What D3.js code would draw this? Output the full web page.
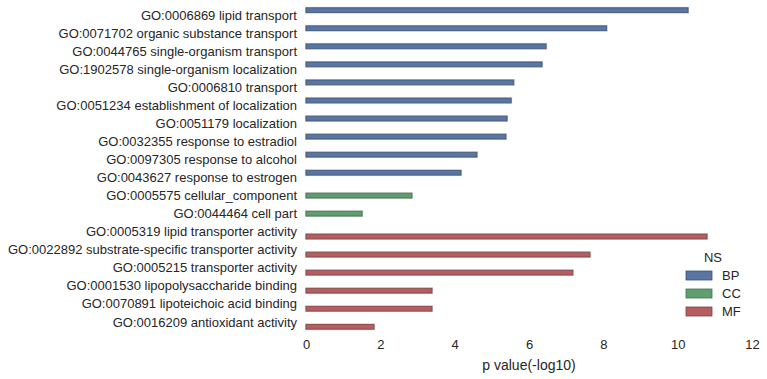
<!DOCTYPE html>
<html><head><meta charset="utf-8">
<script src="https://cdn.jsdelivr.net/npm/d3@7"></script>
<style>
html,body{margin:0;padding:0;background:#fff;}
svg{display:block;font-family:"Liberation Sans",Arial,sans-serif;}
</style></head>
<body><svg id="chart" width="767" height="379"></svg>
<script>
const terms = [
 "GO:0006869 lipid transport",
 "GO:0071702 organic substance transport",
 "GO:0044765 single-organism transport",
 "GO:1902578 single-organism localization",
 "GO:0006810 transport",
 "GO:0051234 establishment of localization",
 "GO:0051179 localization",
 "GO:0032355 response to estradiol",
 "GO:0097305 response to alcohol",
 "GO:0043627 response to estrogen",
 "GO:0005575 cellular_component",
 "GO:0044464 cell part",
 "GO:0005319 lipid transporter activity",
 "GO:0022892 substrate-specific transporter activity",
 "GO:0005215 transporter activity",
 "GO:0001530 lipopolysaccharide binding",
 "GO:0070891 lipoteichoic acid binding",
 "GO:0016209 antioxidant activity"
];
const namespaces = ["BP","BP","BP","BP","BP","BP","BP","BP","BP","BP","CC","CC","MF","MF","MF","MF","MF","MF"];
const pvalues = [10.28, 8.09, 6.46, 6.35, 5.59, 5.52, 5.41, 5.38, 4.60, 4.17, 2.85, 1.51, 10.79, 7.64, 7.18, 3.39, 3.39, 1.83];
const hues = ["BP","CC","MF"];
const xTicks = [0,2,4,6,8,10,12];
const xLabel = "p value(-log10)";
const legendTitle = "NS";

const fillColors = {BP:"#5975a4", CC:"#5f9e6e", MF:"#b55d60"};
const edgeColors = {BP:"#3e5276", CC:"#42704d", MF:"#7f4143"};

const svg = d3.select("#chart");
const x = d3.scaleLinear().domain([0,12]).range([306,752]);
const y = d3.scaleBand().domain(terms).range([6,331]).paddingInner(0).paddingOuter(0);
const sub = d3.scaleBand().domain(hues).range([y.bandwidth()*0.1, y.bandwidth()*0.9]);

const data = terms.map((t,i)=>({term:t, ns:namespaces[i], v:pvalues[i]}));

// bars (halo + bar)
svg.append("g").selectAll("rect.halo").data(data).join("rect")
  .attr("x", x(0)-0.5)
  .attr("y", d=>y(d.term)+sub(d.ns)-0.5)
  .attr("width", d=>x(d.v)-x(0)+1)
  .attr("height", sub.bandwidth()+1)
  .attr("fill","none").attr("stroke","#d0d0d0").attr("stroke-width",1);
svg.append("g").selectAll("rect.bar").data(data).join("rect")
  .attr("x", x(0))
  .attr("y", d=>y(d.term)+sub(d.ns))
  .attr("width", d=>x(d.v)-x(0))
  .attr("height", sub.bandwidth())
  .attr("fill", d=>fillColors[d.ns])
  .attr("stroke", d=>edgeColors[d.ns]).attr("stroke-width",0.8);

// y axis
const yAxis = d3.axisLeft(y).tickSize(0).tickPadding(9);
const gy = svg.append("g").attr("transform","translate(306,0)").call(yAxis);
gy.select(".domain").remove();
gy.selectAll("text").attr("fill","#262626").style("font-size","13px").attr("dy","0.35em");

// x axis
const xAxis = d3.axisBottom(x).tickValues(xTicks).tickSize(0).tickPadding(9).tickFormat(d3.format("d"));
const gx = svg.append("g").attr("transform","translate(0,331)").call(xAxis);
gx.select(".domain").remove();
gx.selectAll("text").attr("fill","#262626").style("font-size","13px");

svg.append("text").attr("x", (x(0)+x(12))/2).attr("y", 370)
  .attr("text-anchor","middle").attr("fill","#262626").style("font-size","14px").text(xLabel);

// legend
const lg = svg.append("g");
lg.append("text").attr("x",713).attr("y",257).attr("dy","0.35em").attr("text-anchor","middle")
  .attr("fill","#262626").style("font-size","13px").text(legendTitle);
hues.forEach((h,i)=>{
  const cy = 275.5 + i*18;
  lg.append("rect").attr("x",686).attr("y",cy-4.5).attr("width",26).attr("height",9)
    .attr("fill",fillColors[h]).attr("stroke",edgeColors[h]).attr("stroke-width",0.8);
  lg.append("text").attr("x",722).attr("y",cy).attr("dy","0.35em")
    .attr("fill","#262626").style("font-size","13px").text(h);
});
</script></body></html>
